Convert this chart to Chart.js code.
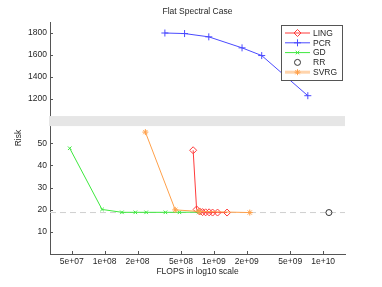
<!DOCTYPE html>
<html>
<head>
<meta charset="utf-8">
<script src="https://cdn.jsdelivr.net/npm/chart.js@4.4.0/dist/chart.umd.min.js"></script>
<style>
  html, body { margin: 0; padding: 0; background: #fff; }
</style>
</head>
<body>
<canvas id="chart" width="382" height="287"></canvas>
<script>
// values
const xTicks = [5e7, 1e8, 2e8, 5e8, 1e9, 2e9, 5e9, 1e10]
const xTickLabels = ['5e+07', '1e+08', '2e+08', '5e+08', '1e+09', '2e+09', '5e+09', '1e+10']
const yTopTicks = [1200, 1400, 1600, 1800]
const yBotTicks = [10, 20, 30, 40, 50]

const lingFlops = [6.46e8, 6.95e8, 7.40e8, 7.88e8, 8.40e8, 9.04e8, 9.73e8, 1.08e9, 1.32e9]
const lingRisk = [46.8, 20.1, 19.2, 18.9, 18.8, 18.8, 18.7, 18.7, 18.7]

const pcrFlops = [3.56e8, 5.39e8, 8.98e8, 1.81e9, 2.74e9, 7.24e9]
const pcrRisk = [1800, 1795, 1765, 1665, 1595, 1230]

const gdFlops = [4.79e7, 9.47e7, 1.44e8, 1.91e8, 2.40e8, 3.60e8, 4.84e8, 7.24e8]
const gdRisk = [47.7, 20.1, 18.8, 18.8, 18.8, 18.8, 18.8, 18.9]

const rrFlops = [1.13e10]
const rrRisk = [18.7]

const svrgFlops = [2.36e8, 4.43e8, 7.33e8, 2.13e9]
const svrgRisk = [55.0, 19.9, 19.2, 18.7]

const refRisk = 18.7
const xMin = 3.162e7, xMax = 1.585e10

const pts = (xs, ys) => xs.map((x, i) => ({ x, y: ys[i] }))
const font = { family: 'Liberation Sans, Arial, sans-serif', size: 8.5 }
const textColor = '#262626'
const axisColor = '#555'

const series = [
  { label: 'LING', color: '#ff3b3b', style: 'rectRot', radius: 3.5, line: true },
  { label: 'PCR', color: '#4a4aff', style: 'cross', radius: 3.5, line: true },
  { label: 'GD', color: '#3ee83e', style: 'crossRot', radius: 2.5, line: true },
  { label: 'RR', color: '#333333', style: 'circle', radius: 3, line: false },
  { label: 'SVRG', color: '#ffa04a', style: 'star', radius: 3, line: true }
]

function ds(idx, data, axis) {
  const s = series[idx]
  return {
    label: s.label, data, yAxisID: axis,
    borderColor: s.color, backgroundColor: 'rgba(0,0,0,0)',
    borderWidth: 1, showLine: s.line,
    pointStyle: s.style, pointRadius: s.radius, pointBorderColor: s.color,
    pointBackgroundColor: 'rgba(0,0,0,0)', pointBorderWidth: 1, pointHoverRadius: s.radius
  }
}

const overlay = {
  id: 'overlay',
  afterDraw(chart) {
    const ctx = chart.ctx
    const a = chart.chartArea
    const x = chart.scales.x, yt = chart.scales.yTop, yb = chart.scales.yBot
    ctx.save()
    // tick marks inside
    ctx.strokeStyle = axisColor
    ctx.lineWidth = 1
    ctx.beginPath()
    xTicks.forEach(v => {
      const px = Math.round(x.getPixelForValue(v)) + 0.5
      ctx.moveTo(px, a.bottom); ctx.lineTo(px, a.bottom - 3)
    })
    yTopTicks.forEach(v => {
      const py = Math.round(yt.getPixelForValue(v)) + 0.5
      ctx.moveTo(a.left, py); ctx.lineTo(a.left + 3, py)
    })
    yBotTicks.forEach(v => {
      const py = Math.round(yb.getPixelForValue(v)) + 0.5
      ctx.moveTo(a.left, py); ctx.lineTo(a.left + 3, py)
    })
    ctx.stroke()

    // axis break band
    const bTop = yt.getPixelForValue(1045), bBot = yb.getPixelForValue(57.7)
    ctx.fillStyle = '#e6e6e6'
    ctx.fillRect(a.left - 1, bTop, a.right - a.left + 1, bBot - bTop)

    // texts
    ctx.fillStyle = textColor
    ctx.font = `${font.size}px ${font.family}`
    ctx.textAlign = 'center'
    ctx.textBaseline = 'middle'
    ctx.fillText('Flat Spectral Case', (a.left + a.right) / 2, 12)
    ctx.fillText('FLOPS in log10 scale', (a.left + a.right) / 2, 272)
    ctx.save()
    ctx.translate(19, (a.top + a.bottom) / 2)
    ctx.rotate(-Math.PI / 2)
    ctx.fillText('Risk', 0, 0)
    ctx.restore()

    // legend
    const lx = 281, ly = 25, lw = 61, lh = 55
    ctx.fillStyle = '#fff'
    ctx.fillRect(lx, ly, lw, lh)
    ctx.strokeStyle = '#555'
    ctx.strokeRect(lx + 0.5, ly + 0.5, lw, lh)
    series.forEach((s, i) => {
      const cy = ly + 8 + i * 9.8
      if (s.line) {
        ctx.strokeStyle = s.label === 'SVRG' ? 'rgba(255,170,90,0.5)' : s.color
        ctx.lineWidth = s.label === 'SVRG' ? 3 : 1
        ctx.beginPath(); ctx.moveTo(285, cy); ctx.lineTo(310, cy); ctx.stroke()
      }
      ctx.strokeStyle = s.color
      ctx.fillStyle = 'rgba(0,0,0,0)'
      ctx.lineWidth = 1
      Chart.helpers.drawPoint(ctx, { pointStyle: s.style, radius: s.radius, borderWidth: 1, rotation: 0 }, 297.5, cy)
      ctx.fillStyle = textColor
      ctx.textAlign = 'left'
      ctx.fillText(s.label, 313, cy + 0.5)
    })
    ctx.restore()
  }
}

const plainTick = v => String(v)

new Chart(document.getElementById('chart'), {
  type: 'line',
  data: {
    datasets: [
      ds(4, pts(svrgFlops, svrgRisk), 'yBot'),
      ds(2, pts(gdFlops, gdRisk), 'yBot'),
      ds(0, pts(lingFlops, lingRisk), 'yBot'),
      ds(3, pts(rrFlops, rrRisk), 'yBot'),
      ds(1, pts(pcrFlops, pcrRisk), 'yTop'),
      {
        label: 'ref', data: [{ x: xMin, y: refRisk }, { x: xMax, y: refRisk }], yAxisID: 'yBot',
        borderColor: '#cfcfcf', borderWidth: 1, borderDash: [6, 4], pointRadius: 0, order: 10
      }
    ]
  },
  options: {
    responsive: false,
    animation: false,
    devicePixelRatio: 1,
    layout: { padding: { top: 22, right: 37, left: 0, bottom: 0 } },
    plugins: { legend: { display: false }, title: { display: false }, tooltip: { enabled: false } },
    scales: {
      x: {
        type: 'logarithmic', min: xMin, max: xMax,
        afterBuildTicks: s => { s.ticks = xTicks.map(v => ({ value: v })) },
        afterFit: s => { s.height = 33 },
        ticks: { font, color: textColor, padding: 3, maxRotation: 0, autoSkip: false,
          callback: (v, i) => xTickLabels[i] },
        grid: { display: false, drawTicks: false },
        border: { display: true, color: axisColor }
      },
      yBot: {
        type: 'linear', position: 'left', stack: 'risk', stackWeight: 133, min: 0, max: 60,
        afterBuildTicks: s => { s.ticks = yBotTicks.map(v => ({ value: v })) },
        afterFit: s => { s.width = 50 },
        ticks: { font, color: textColor, padding: 3, callback: plainTick },
        grid: { display: false, drawTicks: false },
        border: { display: true, color: axisColor }
      },
      yTop: {
        type: 'linear', position: 'left', stack: 'risk', stackWeight: 99, min: 1000, max: 1900,
        afterBuildTicks: s => { s.ticks = yTopTicks.map(v => ({ value: v })) },
        afterFit: s => { s.width = 50 },
        ticks: { font, color: textColor, padding: 3, callback: plainTick },
        grid: { display: false, drawTicks: false },
        border: { display: true, color: axisColor }
      }
    }
  },
  plugins: [overlay]
})
</script>
</body>
</html>
